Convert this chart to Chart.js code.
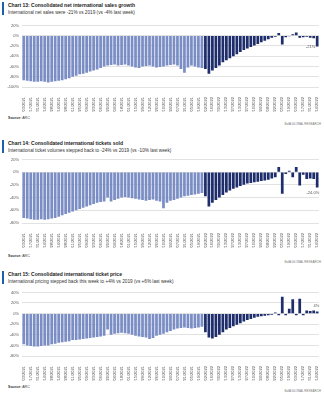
<!DOCTYPE html>
<html><head><meta charset="utf-8">
<script src="https://cdn.jsdelivr.net/npm/chart.js@4.4.0/dist/chart.umd.min.js"></script>
<style>
html,body{margin:0;padding:0;background:#fff;}
body{width:324px;height:400px;position:relative;overflow:hidden;font-family:"Liberation Sans Narrow","Liberation Sans",Arial,sans-serif;}
.t{position:absolute;left:8px;font-weight:bold;font-size:5px;line-height:5px;color:#1a1a1a;white-space:nowrap;}
.s{position:absolute;left:8px;font-size:4.7px;line-height:5px;color:#333;white-space:nowrap;}
.acc{position:absolute;left:2px;width:2px;background:#1b5fae;}
.src{position:absolute;left:8px;font-size:3.6px;line-height:4px;color:#333;white-space:nowrap;}
.bofa{position:absolute;right:3px;font-size:3px;line-height:4px;color:#777;white-space:nowrap;}
canvas{position:absolute;left:0;}
</style></head><body>
<div class="acc" style="top:2px;height:13px"></div>
<div class="t" style="top:3px">Chart 13: Consolidated net international sales growth</div>
<div class="s" style="top:10px">International net sales were -21% vs 2019 (vs -4% last week)</div>
<canvas id="c1" width="324" height="92" style="top:20px"></canvas>
<div class="src" style="top:116px"><b>Source:</b> ARC</div>
<div class="bofa" style="top:122px">BofA GLOBAL RESEARCH</div>

<div class="acc" style="top:140px;height:13px"></div>
<div class="t" style="top:141px">Chart 14: Consolidated international tickets sold</div>
<div class="s" style="top:148px">International ticket volumes stepped back to -24% vs 2019 (vs -10% last week)</div>
<canvas id="c2" width="324" height="94" style="top:154px"></canvas>
<div class="src" style="top:254px"><b>Source:</b> ARC</div>
<div class="bofa" style="top:260px">BofA GLOBAL RESEARCH</div>

<div class="acc" style="top:271px;height:13px"></div>
<div class="t" style="top:272px">Chart 15: Consolidated international ticket price</div>
<div class="s" style="top:279px">International pricing stepped back this week to +4% vs 2019 (vs +6% last week)</div>
<canvas id="c3" width="324" height="94" style="top:287px"></canvas>
<div class="src" style="top:385px"><b>Source:</b> ARC</div>
<div class="bofa" style="top:389px">BofA GLOBAL RESEARCH</div>

<script>
const weeks2021 = ["01/03/2021","01/10/2021","01/17/2021","01/24/2021","01/31/2021","02/07/2021","02/14/2021","02/21/2021","02/28/2021","03/07/2021","03/14/2021","03/21/2021","03/28/2021","04/04/2021","04/11/2021","04/18/2021","04/25/2021","05/02/2021","05/09/2021","05/16/2021","05/23/2021","05/30/2021","06/06/2021","06/13/2021","06/20/2021","06/27/2021","07/04/2021","07/11/2021","07/18/2021","07/25/2021","08/01/2021","08/08/2021","08/15/2021","08/22/2021","08/29/2021","09/05/2021","09/12/2021","09/19/2021","09/26/2021","10/03/2021","10/10/2021","10/17/2021","10/24/2021","10/31/2021","11/07/2021","11/14/2021","11/21/2021","11/28/2021","12/05/2021","12/12/2021","12/19/2021","12/26/2021"];
const weeks2022 = ["01/02/2022","01/09/2022","01/16/2022","01/23/2022","01/30/2022","02/06/2022","02/13/2022","02/20/2022","02/27/2022","03/06/2022","03/13/2022","03/20/2022","03/27/2022","04/03/2022","04/10/2022","04/17/2022","04/24/2022","05/01/2022","05/08/2022","05/15/2022","05/22/2022","05/29/2022","06/05/2022","06/12/2022","06/19/2022","06/26/2022","07/03/2022","07/10/2022","07/17/2022","07/24/2022","07/31/2022","08/07/2022","08/14/2022"];

const sales2021 = [-87,-88,-89,-90,-90,-89,-90,-91,-90,-89,-88,-87,-85,-83,-80,-78,-75,-74,-72,-70,-68,-66,-63,-60,-58,-57,-56,-58,-57,-56,-58,-60,-62,-63,-60,-59,-58,-60,-62,-61,-60,-58,-57,-56,-58,-65,-72,-62,-58,-60,-62,-63];
const sales2022 = [-65,-74,-68,-63,-58,-52,-48,-44,-40,-36,-32,-28,-25,-22,-19,-16,-13,-10,-7,-4,-2,5,-17,-3,-1,3,6,-4,-3,-2,-4,-5,-21];

const tickets2021 = [-72,-73,-74,-75,-75,-74,-75,-74,-73,-72,-70,-68,-66,-64,-62,-60,-58,-56,-54,-52,-50,-48,-47,-46,-40,-46,-44,-42,-40,-39,-40,-41,-42,-43,-44,-45,-44,-43,-45,-46,-57,-48,-45,-44,-42,-40,-38,-37,-36,-35,-34,-33];
const tickets2022 = [-38,-54,-48,-44,-40,-36,-32,-29,-26,-24,-22,-20,-18,-17,-16,-15,-14,-13,-12,-10,-8,8,-34,-3,2,-8,8,-21,-4,-11,-10,-11,-24];

const price2021 = [-58,-60,-61,-62,-62,-61,-60,-60,-58,-57,-55,-54,-53,-52,-50,-50,-49,-48,-47,-46,-45,-44,-43,-42,-30,-40,-38,-37,-36,-37,-38,-40,-42,-43,-44,-45,-48,-46,-42,-40,-38,-35,-33,-30,-28,-27,-26,-27,-28,-27,-26,-25];
const price2022 = [-35,-45,-47,-44,-40,-35,-30,-27,-24,-21,-18,-15,-12,-10,-8,-6,-5,-4,-3,-2,2,-3,32,-3,9,27,-3,28,-3,6,5,6,4];

const yTicksSales = [20,-100];
const yTicksTickets = [20,-80];
const yTicksPrice = [40,-80];

const LIGHT = '#7a8dc4', DARK = '#1e2d6b';
const FONT = '"Liberation Sans Narrow","Liberation Sans",Arial,sans-serif';
const labels = weeks2021.concat(weeks2022);

function make(id, v21, v22, range, note, noteDx, noteDy) {
  const data = v21.concat(v22);
  const colors = data.map((_, i) => i < v21.length ? LIGHT : DARK);
  const notePlugin = {
    id: 'note' + id,
    afterDatasetsDraw(chart) {
      const meta = chart.getDatasetMeta(0);
      const bar = meta.data[meta.data.length - 1];
      const ctx = chart.ctx;
      ctx.save();
      ctx.font = '4px ' + FONT;
      ctx.fillStyle = '#555';
      ctx.textAlign = 'right';
      ctx.textBaseline = 'middle';
      ctx.fillText(note, bar.x + noteDx, bar.y + noteDy);
      ctx.restore();
    }
  };
  return new Chart(document.getElementById(id), {
    type: 'bar',
    data: { labels, datasets: [{ data, backgroundColor: colors, borderWidth: 0, categoryPercentage: 0.78, barPercentage: 1 }] },
    plugins: [notePlugin],
    options: {
      responsive: false, animation: false,
      layout: { padding: { top: 4, right: 2, left: 0, bottom: 0 } },
      plugins: { legend: { display: false }, tooltip: { enabled: false } },
      scales: {
        x: {
          grid: { display: false }, border: { display: false },
          ticks: { autoSkip: false, minRotation: 90, maxRotation: 90, padding: 2, color: '#555', font: { size: 4, family: FONT },
                   callback: (v, i) => i % 2 === 0 ? labels[i] : '' },
          afterFit: s => { s.height = 25; }
        },
        y: {
          min: range[1], max: range[0],
          grid: { color: '#cfcfcf', lineWidth: 0.6, drawTicks: false }, border: { display: false },
          ticks: { stepSize: 20, padding: 3, color: '#555', font: { size: 4, family: FONT }, callback: v => v + '%' },
          afterFit: s => { s.width = 22; }
        }
      }
    }
  });
}
make('c1', sales2021, sales2022, yTicksSales, '-21%', -2, 0);
make('c2', tickets2021, tickets2022, yTicksTickets, '-24.0%', 2, 6);
make('c3', price2021, price2022, yTicksPrice, '4%', 2, -6);
</script>
</body></html>
